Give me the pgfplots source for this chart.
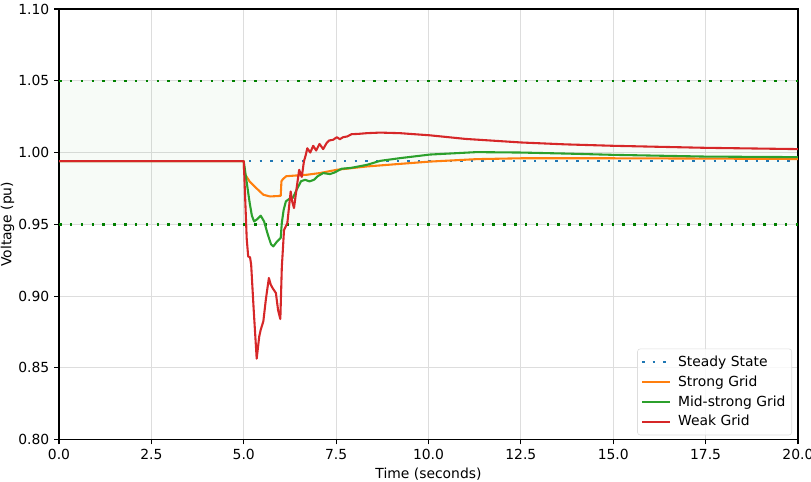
\documentclass[border=0pt]{standalone}
\usepackage{fontspec}
\setmainfont{DejaVu Sans}
\usepackage{pgfplots}
\pgfplotsset{compat=1.18}
\usetikzlibrary{calc}
\definecolor{mplblue}{HTML}{1F77B4}
\definecolor{mplorange}{HTML}{FF7F0E}
\definecolor{mplgreen}{HTML}{2CA02C}
\definecolor{mplred}{HTML}{D62728}
\definecolor{limgreen}{HTML}{008000}
\definecolor{gridgray}{HTML}{DDDDDD}
\begin{document}
\begin{tikzpicture}
\begin{axis}[
  name=ax,
  scale only axis,
  width=532pt, height=310pt,
  xmin=0, xmax=20, ymin=0.8, ymax=1.1,
  xtick={0,2.5,5,7.5,10,12.5,15,17.5,20},
  ytick={0.80,0.85,0.90,0.95,1.00,1.05,1.10},
  xticklabel style={/pgf/number format/.cd, fixed, fixed zerofill, precision=1},
  yticklabel style={/pgf/number format/.cd, fixed, fixed zerofill, precision=2},
  /pgf/number format/assume math mode=true,
  tick label style={font=\fontsize{10}{12}\selectfont},
  label style={font=\fontsize{10}{12}\selectfont},
  xlabel={Time (seconds)},
  ylabel={Voltage (pu)},
  xlabel style={yshift=1pt},
  ylabel style={yshift=-4pt},
  grid=major,
  major grid style={gridgray, line width=0.8pt},
  axis line style={black, line width=0.8pt},
  tick style={black, line width=0.8pt},
  tick align=outside,
  major tick length=3.5pt,
  xtick pos=bottom, ytick pos=left,
  legend cell align=left,
  legend style={at={(axis description cs:0.992,0.01)}, anchor=south east,
    font=\fontsize{10}{12}\selectfont, draw=gridgray, rounded corners=2pt,
    fill=white, fill opacity=0.8, text opacity=1,
    row sep=1.2pt, inner xsep=2.5pt, inner ysep=3pt},
  legend image code/.code={\draw[#1] (0pt,0pt) -- (20pt,0pt); \path (23pt,0pt);},
]
% shaded band
\addplot[draw=none, fill=limgreen, fill opacity=0.03, forget plot] coordinates {(0,0.95) (20,0.95) (20,1.05) (0,1.05)} -- cycle;
\addplot[limgreen, line width=1.8pt, dash pattern=on 1.8pt off 6pt, forget plot] coordinates {(0,0.95) (20,0.95)};
\addplot[limgreen, line width=1.8pt, dash pattern=on 1.8pt off 6pt, forget plot] coordinates {(0,1.05) (20,1.05)};

\addplot[mplblue, line width=1.7pt, dash pattern=on 1.7pt off 5.9pt] coordinates {(0,0.994) (20,0.994)};
\addlegendentry{Steady State}

\addplot[mplorange, line width=1.5pt, line join=round] coordinates {
(0,0.994) (5.0,0.994) (5.01,0.986) (5.03,0.985) (5.16,0.9798) (5.34,0.9752) (5.53,0.9706) (5.71,0.9694) (6.0,0.9698)
(6.02,0.980) (6.06,0.9815) (6.15,0.9835) (6.3,0.9838) (6.7,0.9845) (7.06,0.9857) (7.52,0.988) (8.33,0.9903)
(9.23,0.9921) (10.04,0.9937) (11.3,0.9954) (12.5,0.996) (15,0.996) (17.48,0.9958) (20,0.9955)};
\addlegendentry{Strong Grid}

\addplot[mplgreen, line width=1.5pt, line join=round] coordinates {
(0,0.994) (5.0,0.994) (5.07,0.981) (5.16,0.965) (5.22,0.956) (5.28,0.952) (5.36,0.9535) (5.46,0.956) (5.55,0.952)
(5.65,0.943) (5.74,0.936) (5.8,0.9346) (5.9,0.938) (6.0,0.9405) (6.03,0.951) (6.08,0.960) (6.14,0.966) (6.22,0.9675)
(6.33,0.9685) (6.45,0.975) (6.55,0.980) (6.66,0.981) (6.78,0.9799) (6.9,0.981) (7.0,0.9835) (7.15,0.9857)
(7.33,0.985) (7.45,0.986) (7.65,0.9887) (7.9,0.9893) (8.33,0.9914) (8.69,0.9942) (9.23,0.9961) (10.04,0.9986)
(11.3,1.0003) (12.5,1.0) (13.7,0.9993) (15,0.9984) (17.48,0.9972) (20,0.9968)};
\addlegendentry{Mid-strong Grid}

\addplot[mplred, line width=1.5pt, line join=round] coordinates {
(0,0.994) (5.0,0.994) (5.08,0.940) (5.12,0.9276) (5.17,0.927) (5.2,0.922) (5.27,0.890) (5.35,0.8564) (5.42,0.872)
(5.46,0.8766) (5.53,0.8824) (5.6,0.898) (5.68,0.9126) (5.73,0.908) (5.78,0.9056) (5.87,0.9021) (5.93,0.890)
(5.99,0.884) (6.03,0.920) (6.09,0.946) (6.18,0.9509) (6.27,0.9729) (6.31,0.966) (6.36,0.9613) (6.43,0.975)
(6.5,0.988) (6.57,0.983) (6.63,0.994) (6.68,0.9985) (6.72,1.003) (6.8,1.0) (6.88,1.0047) (6.96,1.0014)
(7.05,1.006) (7.15,1.0024) (7.24,1.0065) (7.31,1.0084) (7.42,1.0089) (7.52,1.0107) (7.6,1.0093) (7.69,1.0107)
(7.8,1.0112) (7.92,1.0128) (8.1,1.013) (8.33,1.0135) (8.69,1.0139) (9.23,1.0135) (10.04,1.012) (11,1.0095)
(12.52,1.007) (13.7,1.0057) (15,1.0047) (17.48,1.0033) (20,1.0024)};
\addlegendentry{Weak Grid}
\end{axis}
\pgfresetboundingbox
\path ($(ax.south west)+(-42.5pt,-30.2pt)$) rectangle ($(ax.north east)+(9.4pt,6.5pt)$);
\end{tikzpicture}
\end{document}
